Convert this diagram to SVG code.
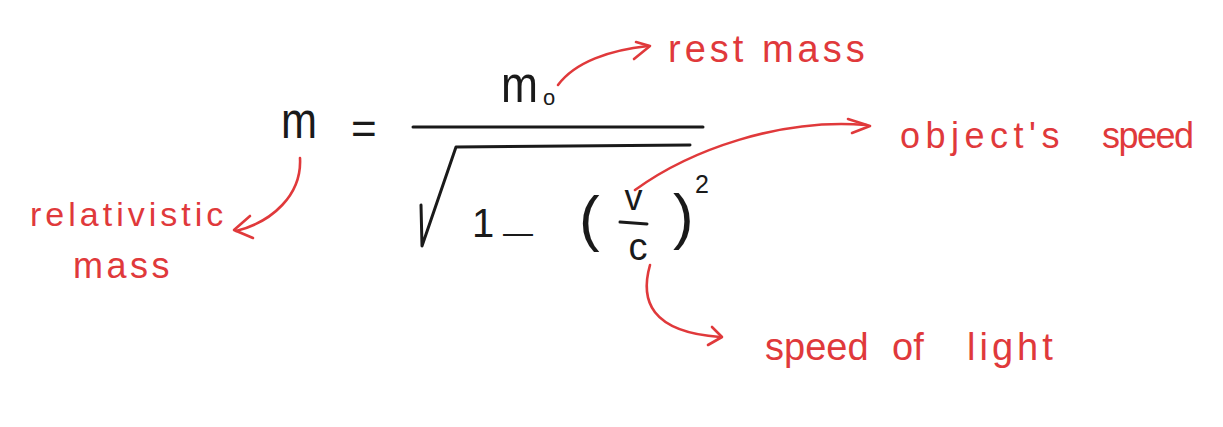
<svg xmlns="http://www.w3.org/2000/svg" width="1223" height="427" viewBox="0 0 1223 427">
<style>
.k{font-family:"Liberation Sans",Arial,sans-serif;fill:#1a1a1a}
.r{font-family:"Liberation Sans",Arial,sans-serif;fill:#e0393b}
.ks{fill:none;stroke:#1a1a1a;stroke-width:3;stroke-linecap:round;stroke-linejoin:round}
.rs{fill:none;stroke:#e0393b;stroke-width:2.6;stroke-linecap:round;stroke-linejoin:round}
</style>
<rect width="1223" height="427" fill="#ffffff"/>
<g id="formula">
  <text class="k" x="281" y="138" font-size="52" textLength="36" lengthAdjust="spacingAndGlyphs">m</text>
  <text class="k" x="351" y="144" font-size="44">=</text>
  <text class="k" x="501" y="102" font-size="52" textLength="37" lengthAdjust="spacingAndGlyphs">m</text>
  <text class="k" x="543" y="105" font-size="22">o</text>
  <line class="ks" x1="413" y1="127" x2="703" y2="127"/>
  <path class="ks" d="M421,205 L422,246 L456,147 L690,145"/>
  <text class="k" x="472" y="237" font-size="40">1</text>
  <text class="k" x="503" y="243" font-size="30">—</text>
  <text class="k" x="579" y="239" font-size="62">(</text>
  <text class="k" x="633.5" y="210" font-size="36" text-anchor="middle">v</text>
  <line class="ks" x1="620" y1="222" x2="647" y2="224"/>
  <text class="k" x="638" y="260" font-size="38" text-anchor="middle">c</text>
  <text class="k" x="673" y="237" font-size="62">)</text>
  <text class="k" x="702" y="193" font-size="25" text-anchor="middle">2</text>
</g>
<g id="label-rest-mass">
  <text class="r" x="668" y="62" font-size="38" letter-spacing="4">rest mass</text>
</g>
<g id="label-relativistic-mass">
  <text class="r" x="30" y="226" font-size="34" letter-spacing="4">relativistic</text>
  <text class="r" x="73" y="278" font-size="36" letter-spacing="3.5">mass</text>
</g>
<g id="label-objects-speed">
  <text class="r" font-size="36" y="148"><tspan x="900" letter-spacing="5.5">object's</tspan><tspan x="1102" letter-spacing="-1.5">speed</tspan></text>
</g>
<g id="label-speed-of-light">
  <text class="r" font-size="38" y="360"><tspan x="765">speed</tspan><tspan x="892">of</tspan><tspan x="967" letter-spacing="4">light</tspan></text>
</g>
<g id="connectors">
  <path class="rs" d="M558,85 C575,62 610,50 648,46"/>
  <path class="rs" d="M636,42 L650,46 L634,59"/>
  <path class="rs" d="M300,158 C302,195 272,222 236,231"/>
  <path class="rs" d="M250,216 L234,230 L253,238"/>
  <path class="rs" d="M635,190 C690,150 780,118 866,125"/>
  <path class="rs" d="M848,119 L870,126 L852,133"/>
  <path class="rs" d="M650,265 C640,300 650,332 720,337"/>
  <path class="rs" d="M712,327 L722,337 L708,345"/>
</g>
</svg>
